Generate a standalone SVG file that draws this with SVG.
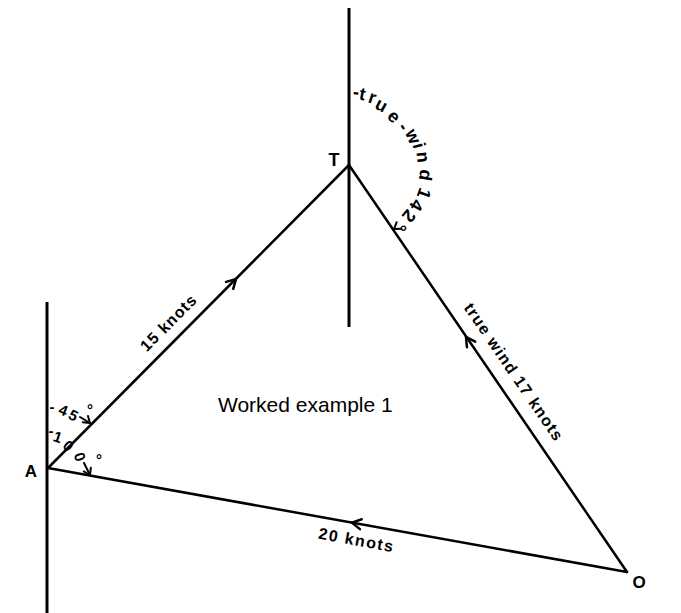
<svg xmlns="http://www.w3.org/2000/svg" width="681" height="613" viewBox="0 0 681 613">
<style>
.ln{stroke:#000;stroke-width:2.5;fill:none;stroke-linecap:round}
.ax{stroke:#000;stroke-width:3;fill:none}
.thin{stroke:#000;stroke-width:2;fill:none;stroke-linecap:round;stroke-linejoin:round}
.lbl{font-family:"Liberation Sans",Arial,sans-serif;font-weight:bold;fill:#000}
.g{font-family:"Liberation Sans",Arial,sans-serif;font-weight:bold;fill:#000;text-anchor:middle;dominant-baseline:central}
.g18{font-size:18px}
.g15{font-size:15px}
.cap{font-family:"Liberation Sans",Arial,sans-serif;font-size:21px;fill:#000}
</style>
<defs>
<path id="chev" d="M-9,-5 L0,0 L-9,5" class="ln"/>
<path id="chevs" d="M-6,-4 L0,0 L-6,4" class="thin"/>
</defs>
<rect width="681" height="613" fill="#fff"/>
<g id="connectors">
<line class="ax" x1="349" y1="8" x2="349" y2="327"/>
<line class="ax" x1="47" y1="302" x2="47" y2="613"/>
<line class="ln" x1="48" y1="468" x2="349" y2="165"/>
<line class="ln" x1="627" y1="572" x2="349" y2="165"/>
<line class="ln" x1="627" y1="572" x2="48" y2="468"/>
<use href="#chev" transform="translate(236,279) rotate(-45.2)"/>
<use href="#chev" transform="translate(466,337) rotate(-124.3)"/>
<use href="#chev" transform="translate(352,522.6) rotate(190.2)"/>
<use href="#chevs" transform="translate(394,229) rotate(145)"/>
<line class="thin" x1="80" y1="417" x2="90" y2="423"/>
<use href="#chevs" transform="translate(90,423) rotate(40)"/>
<line class="thin" x1="84" y1="463" x2="90" y2="475"/>
<use href="#chevs" transform="translate(90,475) rotate(63)"/>
</g>
<g id="node-T"><text class="lbl" x="334" y="166" font-size="18" text-anchor="middle">T</text></g>
<g id="node-A"><text class="lbl" x="31" y="477" font-size="17" text-anchor="middle">A</text></g>
<g id="node-O"><text class="lbl" x="639" y="588" font-size="17" text-anchor="middle">O</text></g>
<g id="labels">
<text class="lbl" font-size="16" letter-spacing="1" text-anchor="middle" transform="translate(169,323) rotate(-45.2)" y="5">15 knots</text>
<text class="lbl" font-size="16" letter-spacing="1.3" text-anchor="middle" transform="translate(513.5,372.5) rotate(55.7)" y="5">true wind 17 knots</text>
<text class="lbl" font-size="16" letter-spacing="1.5" text-anchor="middle" transform="translate(356.5,540.5) rotate(10.2)" y="5">20 knots</text>
<g id="arc-label">
<text class="g g18" transform="translate(356,92) rotate(6)">-</text>
<text class="g g18" transform="translate(362.5,94) rotate(10)">t</text>
<text class="g g18" transform="translate(372.5,97.5) rotate(18.5)">r</text>
<text class="g g18" transform="translate(381.5,105) rotate(28)">u</text>
<text class="g g18" transform="translate(394,116.5) rotate(45)">e</text>
<text class="g g18" transform="translate(404,126.5) rotate(57)">-</text>
<text class="g g18" transform="translate(413,136.5) rotate(66)">w</text>
<text class="g g18" transform="translate(419,145.5) rotate(75)">i</text>
<text class="g g18" transform="translate(423,157) rotate(84)">n</text>
<text class="g g18" transform="translate(425.5,175) rotate(99)">d</text>
<text class="g g18" transform="translate(424,193.5) rotate(110)">1</text>
<text class="g g18" transform="translate(416.5,205) rotate(120)">4</text>
<text class="g g18" transform="translate(409,216) rotate(130)">2</text>
<text class="g g18" transform="translate(401,225.5) rotate(139)">°</text>
</g>
<g id="angle-45">
<text class="g g15" transform="translate(52,406.5)">-</text>
<text class="g g15" transform="translate(63.5,410) rotate(22)">4</text>
<text class="g g15" transform="translate(73.5,415) rotate(28)">5</text>
<text class="lbl" font-size="15" x="90" y="415" text-anchor="middle">°</text>
</g>
<g id="angle-100">
<text class="g g15" transform="translate(51,430)">-</text>
<text class="g g15" transform="translate(58,436.7) rotate(18)">1</text>
<text class="g g15" transform="translate(68.5,445.5) rotate(41)">0</text>
<text class="g g15" transform="translate(80,456.7) rotate(70)">0</text>
<text class="lbl" font-size="15" x="99" y="465" text-anchor="middle">°</text>
</g>
<text class="cap" x="218" y="412">Worked example 1</text>
</g>
</svg>
